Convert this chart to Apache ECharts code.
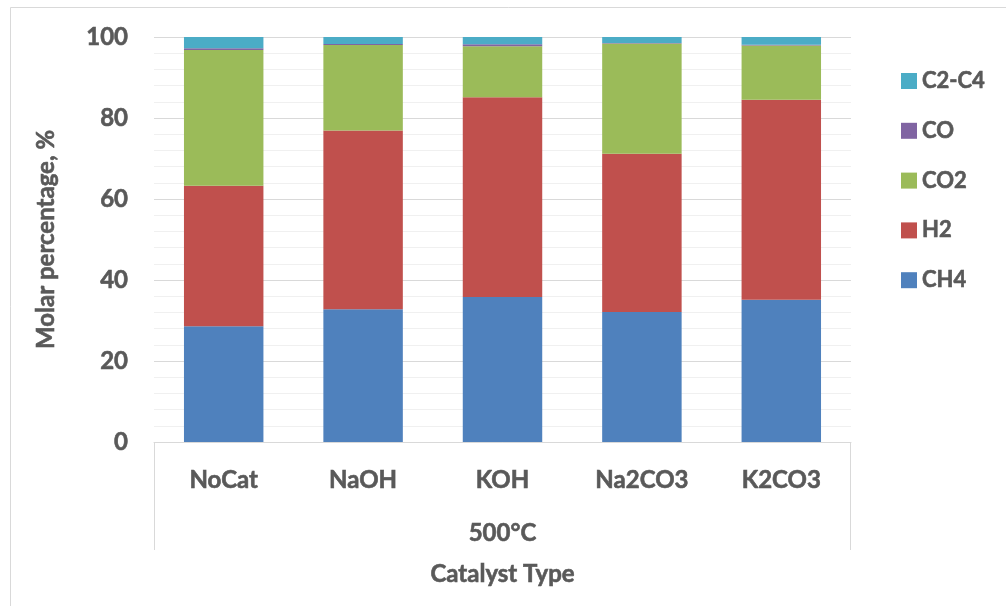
<!DOCTYPE html>
<html>
<head>
<meta charset="utf-8">
<title>Molar percentage by catalyst type</title>
<script src="https://cdn.jsdelivr.net/npm/echarts@6/dist/echarts.min.js"></script>
<style>
  html, body { margin: 0; padding: 0; background: #fff; }
  #chart { width: 1006px; height: 606px; }
</style>
</head>
<body>
<div id="chart"></div>
<script>
// Gas composition (mol %) at 500°C for each catalyst
const categories = ['NoCat', 'NaOH', 'KOH', 'Na2CO3', 'K2CO3'];
const groupLabel = '500°C';
const seriesNames = ['CH4', 'H2', 'CO2', 'CO', 'C2-C4'];
const ch4  = [28.6, 32.8, 35.8, 32.1, 35.1];
const h2   = [34.7, 44.1, 49.3, 39.1, 49.4];
const co2  = [33.5, 21.1, 12.6, 27.2, 13.4];
const co   = [0.4, 0.3, 0.5, 0.1, 0.2];
const c2c4 = [2.8, 1.7, 1.8, 1.5, 1.9];
const yTicks = [0, 20, 40, 60, 80, 100];

const seriesData = [ch4, h2, co2, co, c2c4];
const colors = ['#4F81BD', '#C0504D', '#9BBB59', '#8064A2', '#4BACC6'];

const W = 1006, H = 606;
const grid = { left: 154, right: 155, top: 37, bottom: 164 };
const plotRight = W - grid.right;
const plotBottom = H - grid.bottom;
const textColor = '#595959';
const font = 'Lato, "Open Sans", sans-serif';

// shared bold label look
function labelStyle(size) {
  return {
    color: textColor, fontFamily: font, fontWeight: 'bold', fontSize: size,
    textBorderColor: textColor, textBorderWidth: 0.6
  };
}

const chart = echarts.init(document.getElementById('chart'), null, { renderer: 'canvas' });

const option = {
  backgroundColor: '#fff',
  animation: false,
  color: colors,
  grid: grid,
  legend: {
    orient: 'vertical',
    left: 896,
    top: 64,
    itemWidth: 16,
    itemHeight: 16,
    itemGap: 25.8,
    itemStyle: { borderWidth: 0 },
    icon: 'rect',
    data: seriesNames.slice().reverse(),
    textStyle: Object.assign(labelStyle(22), { lineHeight: 24, padding: [0, 0, 0, 0] })
  },
  xAxis: {
    type: 'category',
    data: categories,
    name: 'Catalyst Type',
    nameLocation: 'middle',
    nameGap: 120,
    nameTextStyle: labelStyle(24),
    axisLine: { show: true, lineStyle: { color: '#d9d9d9', width: 1 } },
    axisTick: { show: false },
    axisLabel: Object.assign(labelStyle(24), { margin: 26 }),
    splitLine: { show: false }
  },
  yAxis: {
    type: 'value',
    min: yTicks[0],
    max: yTicks[yTicks.length - 1],
    interval: yTicks[1] - yTicks[0],
    name: 'Molar percentage, %',
    nameLocation: 'middle',
    nameRotate: 90,
    nameGap: 96,
    nameTextStyle: labelStyle(24),
    axisLine: { show: false },
    axisTick: { show: false },
    axisLabel: Object.assign(labelStyle(24), { margin: 26 }),
    splitLine: { show: true, lineStyle: { color: '#d9d9d9', width: 1 } },
    minorTick: { show: false, splitNumber: 5 },
    minorSplitLine: { show: true, lineStyle: { color: '#f0f0f0', width: 1 } }
  },
  series: seriesNames.map((name, i) => ({
    name: name,
    type: 'bar',
    stack: 'total',
    barWidth: '57%',
    data: seriesData[i],
    itemStyle: { color: colors[i] },
    emphasis: { disabled: true }
  })),
  graphic: [
    // outer chart frame (left and top edges)
    { type: 'line', silent: true, shape: { x1: 10.5, y1: 7.5, x2: 10.5, y2: H }, style: { stroke: '#d9d9d9', lineWidth: 1 } },
    { type: 'line', silent: true, shape: { x1: 10.5, y1: 7.5, x2: W, y2: 7.5 }, style: { stroke: '#d9d9d9', lineWidth: 1 } },
    // group separators under the category axis
    { type: 'line', silent: true, shape: { x1: grid.left + 0.5, y1: plotBottom, x2: grid.left + 0.5, y2: plotBottom + 108 }, style: { stroke: '#d9d9d9', lineWidth: 1 } },
    { type: 'line', silent: true, shape: { x1: plotRight - 0.5, y1: plotBottom, x2: plotRight - 0.5, y2: plotBottom + 108 }, style: { stroke: '#d9d9d9', lineWidth: 1 } },
    // group label
    {
      type: 'text', silent: true,
      x: (grid.left + plotRight) / 2, y: plotBottom + 91,
      style: {
        text: groupLabel, fill: textColor, font: 'bold 24px ' + font,
        stroke: textColor, lineWidth: 0.6,
        textAlign: 'center', textVerticalAlign: 'middle'
      }
    }
  ]
};

chart.setOption(option);
</script>
</body>
</html>
